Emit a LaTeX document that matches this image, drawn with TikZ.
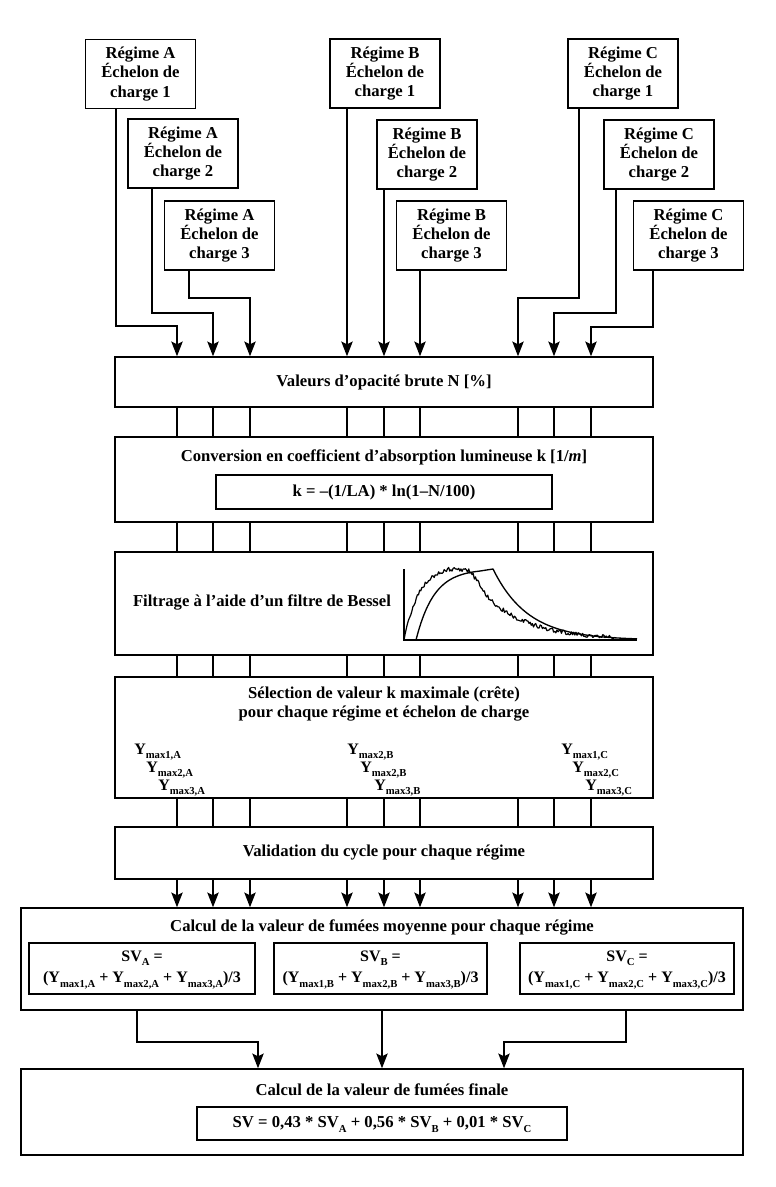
\documentclass[tikz,border=0pt]{standalone}
\usepackage{fontspec}
\setmainfont{Liberation Serif}
\usetikzlibrary{arrows.meta}
\newcommand\sbs[1]{\raisebox{-0.28em}[0pt][0pt]{\fontsize{8}{9}\selectfont #1}}
\begin{document}
\begin{tikzpicture}[x=0.75pt,y=-0.75pt,
  txt/.style={font=\bfseries\fontsize{12.5}{14.5}\selectfont, align=center, inner sep=0pt},
  box/.style={txt, draw, line width=1.1pt},
  topbox/.style={box, minimum width=82.5pt, minimum height=52pt},
  widebox/.style={box, minimum width=403.5pt},
  fullbox/.style={box, minimum width=541.5pt},
  svbox/.style={box, font=\bfseries\fontsize{12}{16}\selectfont, minimum height=38.25pt},
  ln/.style={line width=1.1pt},
  arr/.style={line width=1.1pt, -{Stealth[length=11pt,width=8.5pt,inset=2pt]}},
  ylab/.style={font=\bfseries\fontsize{12}{13}\selectfont, inner sep=0pt, anchor=west},
  curve/.style={line width=1pt, line join=round},
  ]
\useasboundingbox (0,0) rectangle (775,1187);

% top boxes
\node[topbox] (A1) at (140.5,74) {Régime A\\Échelon de\\charge 1};
\node[topbox] (A2) at (183,153.5) {Régime A\\Échelon de\\charge 2};
\node[topbox] (A3) at (219.5,235.5) {Régime A\\Échelon de\\charge 3};
\node[topbox] (B1) at (385,73.5) {Régime B\\Échelon de\\charge 1};
\node[topbox, minimum width=75pt] (B2) at (427,154.5) {Régime B\\Échelon de\\charge 2};
\node[topbox] (B3) at (451.5,235.5) {Régime B\\Échelon de\\charge 3};
\node[topbox] (C1) at (623,73.5) {Régime C\\Échelon de\\charge 1};
\node[topbox] (C2) at (659,154.5) {Régime C\\Échelon de\\charge 2};
\node[topbox] (C3) at (688.5,235.5) {Régime C\\Échelon de\\charge 3};

% main boxes
\node[widebox, minimum height=37.5pt] (Val) at (384,382) {Valeurs d'opacité brute N [\%]};
\node[widebox, minimum height=63.75pt] (Conv) at (384,479.5) {};
\node[txt] (ConvT) at (384,457) {Conversion en coefficient d'absorption lumineuse k [1/\textit{m}]};
\node[box, minimum width=252pt, minimum height=25.5pt] (ConvF) at (384,492) {k = –(1/LA) * ln(1–N/100)};

\node[widebox, minimum height=77.25pt] (Filt) at (384,603.5) {};
\node[txt] (FiltT) at (262,602) {Filtrage à l'aide d'un filtre de Bessel};

\node[widebox, minimum height=90.75pt] (Sel) at (384,737.5) {};
\node[txt] (SelT) at (384,704) {Sélection de valeur k maximale (crête)\\pour chaque régime et échelon de charge};
\node[ylab] (YA1) at (134,749) {Y\sbs{max1,A}};
\node[ylab] (YA2) at (146,767) {Y\sbs{max2,A}};
\node[ylab] (YA3) at (158,785) {Y\sbs{max3,A}};
\node[ylab] (YB1) at (347,749) {Y\sbs{max2,B}};
\node[ylab] (YB2) at (360,767) {Y\sbs{max2,B}};
\node[ylab] (YB3) at (374,785) {Y\sbs{max3,B}};
\node[ylab] (YC1) at (561,749) {Y\sbs{max1,C}};
\node[ylab] (YC2) at (572,767) {Y\sbs{max2,C}};
\node[ylab] (YC3) at (585,785) {Y\sbs{max3,C}};

\node[widebox, minimum height=39pt] (Valid) at (384,853) {Validation du cycle pour chaque régime};

\node[fullbox, minimum height=76.5pt] (Calc) at (382,959) {};
\node[txt] (CalcT) at (382,927) {Calcul de la valeur de fumées moyenne pour chaque régime};
\node[svbox, minimum width=169.5pt] (SVA) at (142,968.5)
  {SV\sbs{A} =\\(Y\sbs{max1,A} + Y\sbs{max2,A} + Y\sbs{max3,A})/3};
\node[svbox, minimum width=159.75pt] (SVB) at (380.5,968.5)
  {SV\sbs{B} =\\(Y\sbs{max1,B} + Y\sbs{max2,B} + Y\sbs{max3,B})/3};
\node[svbox, minimum width=160.5pt] (SVC) at (627,968.5)
  {SV\sbs{C} =\\(Y\sbs{max1,C} + Y\sbs{max2,C} + Y\sbs{max3,C})/3};

\node[fullbox, minimum height=64.5pt] (Fin) at (382,1112) {};
\node[txt] (FinT) at (382,1090) {Calcul de la valeur de fumées finale};
\node[box, minimum width=277.5pt, minimum height=24.75pt] (FinF) at (382,1123.5)
  {SV = 0,43 * SV\sbs{A} + 0,56 * SV\sbs{B} + 0,01 * SV\sbs{C}};

% top connectors
\draw[arr] (A1.south -| 116,0) |- (177,326) -- (Val.north -| 177,0);
\draw[arr] (A2.south -| 152,0) |- (213,313) -- (Val.north -| 213,0);
\draw[arr] (A3.south -| 189,0) |- (250,298) -- (Val.north -| 250,0);
\draw[arr] (B1.south -| 347,0) -- (Val.north -| 347,0);
\draw[arr] (B2.south -| 384,0) -- (Val.north -| 384,0);
\draw[arr] (B3.south -| 420,0) -- (Val.north -| 420,0);
\draw[arr] (C1.south -| 579,0) |- (518,298) -- (Val.north -| 518,0);
\draw[arr] (C2.south -| 616,0) |- (554,313) -- (Val.north -| 554,0);
\draw[arr] (C3.south -| 653,0) |- (591,327) -- (Val.north -| 591,0);

% column connectors
\foreach \cx in {177,213,250,347,384,420,518,554,591}{
  \draw[ln] (Val.south -| \cx,0) -- (Conv.north -| \cx,0);
  \draw[ln] (Conv.south -| \cx,0) -- (Filt.north -| \cx,0);
  \draw[ln] (Filt.south -| \cx,0) -- (Sel.north -| \cx,0);
  \draw[ln] (Sel.south -| \cx,0) -- (Valid.north -| \cx,0);
  \draw[arr] (Valid.south -| \cx,0) -- (Calc.north -| \cx,0);
}

% bottom connectors
\draw[arr] (Calc.south -| 137,0) |- (258,1042) -- (Fin.north -| 258,0);
\draw[arr] (Calc.south -| 382,0) -- (Fin.north -| 382,0);
\draw[arr] (Calc.south -| 626,0) |- (504,1042) -- (Fin.north -| 504,0);

% Bessel plot
\draw[line width=0.9pt] (404,569) -- (404,640) -- (637,640);
\draw[curve] plot[domain=416:480, samples=40] (\x, {640-71*(1-exp(-(\x-416)/18))})
  -- (493,569)
  -- plot[domain=493:637, samples=60] (\x, {640-71*exp(-(\x-493)/35)});
\pgfmathsetseed{11}
\draw[curve, line width=0.9pt] plot[domain=404:615, samples=190]
  (\x, {(\x<447 ? 640-74*(1-exp(-(\x-404)/15)) : (\x<470 ? 569+0.09*(\x-447) : (\x<490 ? 571+(\x-470)*1.45 : 640-40*exp(-(\x-490)/45)))) + 2.2*rand});
\end{tikzpicture}
\end{document}
